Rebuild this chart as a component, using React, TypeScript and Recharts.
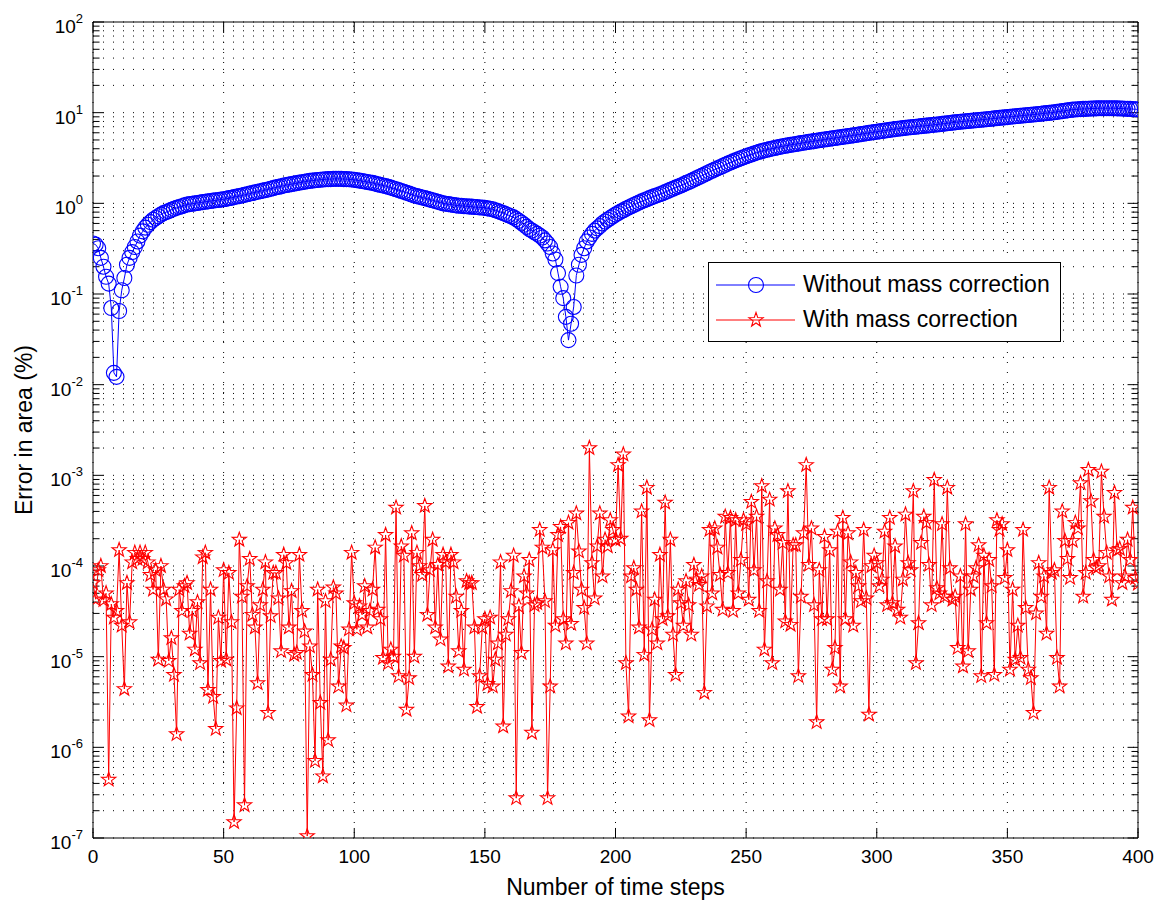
import React from 'react';
import { CartesianGrid, Legend, Line, LineChart, ReferenceLine, XAxis, YAxis } from 'recharts';

const FONT = '"Liberation Sans", Arial, Helvetica, sans-serif';

// time step index 0..400
const steps = Array.from({ length: 401 }, (_, i) => i);

// error in area (%) without mass correction
const withoutCorrection = [
  0.36, 0.35, 0.32, 0.25, 0.2, 0.155, 0.13, 0.07, 0.0135, 0.0122,
  0.065, 0.11, 0.15, 0.21, 0.25, 0.29, 0.33, 0.38, 0.44, 0.49,
  0.54, 0.58, 0.62, 0.66, 0.69, 0.72, 0.75, 0.78, 0.8, 0.82,
  0.85, 0.87, 0.89, 0.91, 0.93, 0.95, 0.97, 0.98, 0.99, 1.0,
  1.01, 1.02, 1.03, 1.04, 1.05, 1.06, 1.07, 1.08, 1.09, 1.1,
  1.11, 1.12, 1.14, 1.15, 1.17, 1.19, 1.2, 1.22, 1.24, 1.26,
  1.28, 1.3, 1.32, 1.34, 1.36, 1.38, 1.4, 1.42, 1.45, 1.47,
  1.5, 1.52, 1.54, 1.57, 1.59, 1.61, 1.63, 1.65, 1.67, 1.69,
  1.71, 1.73, 1.75, 1.77, 1.78, 1.8, 1.81, 1.82, 1.83, 1.84,
  1.85, 1.85, 1.86, 1.86, 1.86, 1.86, 1.85, 1.85, 1.84, 1.83,
  1.82, 1.8, 1.78, 1.76, 1.74, 1.72, 1.7, 1.68, 1.65, 1.62,
  1.6, 1.57, 1.55, 1.52, 1.49, 1.46, 1.43, 1.4, 1.37, 1.34,
  1.31, 1.28, 1.25, 1.22, 1.2, 1.18, 1.16, 1.14, 1.12, 1.1,
  1.08, 1.06, 1.04, 1.02, 1.0, 0.99, 0.98, 0.97, 0.96, 0.95,
  0.94, 0.94, 0.93, 0.93, 0.92, 0.92, 0.91, 0.91, 0.9, 0.9,
  0.89, 0.88, 0.87, 0.86, 0.84, 0.82, 0.8, 0.78, 0.76, 0.74,
  0.72, 0.7, 0.67, 0.64, 0.61, 0.58, 0.55, 0.52, 0.5, 0.48,
  0.46, 0.44, 0.42, 0.39, 0.36, 0.33, 0.28, 0.24, 0.17, 0.12,
  0.09, 0.056, 0.031, 0.047, 0.072, 0.16, 0.21, 0.27, 0.32, 0.38,
  0.42, 0.46, 0.5, 0.53, 0.56, 0.6, 0.63, 0.66, 0.69, 0.72,
  0.75, 0.78, 0.81, 0.84, 0.87, 0.9, 0.93, 0.96, 0.99, 1.02,
  1.05, 1.08, 1.11, 1.14, 1.17, 1.2, 1.23, 1.26, 1.29, 1.33,
  1.37, 1.41, 1.45, 1.49, 1.53, 1.57, 1.62, 1.67, 1.72, 1.77,
  1.83, 1.89, 1.95, 2.01, 2.08, 2.15, 2.22, 2.29, 2.36, 2.43,
  2.5, 2.58, 2.66, 2.74, 2.82, 2.9, 2.98, 3.06, 3.14, 3.22,
  3.3, 3.38, 3.46, 3.54, 3.62, 3.7, 3.77, 3.84, 3.9, 3.96,
  4.02, 4.08, 4.14, 4.2, 4.26, 4.31, 4.36, 4.41, 4.46, 4.51,
  4.56, 4.61, 4.66, 4.71, 4.76, 4.81, 4.86, 4.91, 4.96, 5.01,
  5.06, 5.11, 5.16, 5.21, 5.26, 5.31, 5.36, 5.41, 5.46, 5.51,
  5.56, 5.62, 5.68, 5.74, 5.8, 5.86, 5.92, 5.98, 6.04, 6.1,
  6.16, 6.22, 6.28, 6.34, 6.4, 6.46, 6.52, 6.58, 6.64, 6.7,
  6.75, 6.8, 6.85, 6.9, 6.95, 7.0, 7.05, 7.1, 7.15, 7.2,
  7.25, 7.3, 7.35, 7.4, 7.46, 7.52, 7.58, 7.64, 7.7, 7.76,
  7.82, 7.88, 7.94, 8.0, 8.05, 8.1, 8.15, 8.2, 8.25, 8.3,
  8.35, 8.4, 8.46, 8.52, 8.58, 8.64, 8.7, 8.76, 8.82, 8.88,
  8.94, 9.0, 9.06, 9.12, 9.18, 9.24, 9.3, 9.36, 9.42, 9.48,
  9.54, 9.6, 9.67, 9.74, 9.81, 9.88, 9.95, 10.0, 10.1, 10.2,
  10.3, 10.4, 10.5, 10.6, 10.7, 10.8, 10.85, 10.9, 10.95, 11.0,
  11.0, 11.05, 11.1, 11.1, 11.15, 11.2, 11.2, 11.2, 11.2, 11.2,
  11.2, 11.2, 11.15, 11.1, 11.1, 11.05, 11.0, 11.0, 10.95, 10.9,
  10.9,
];

// error in area (%) with mass correction
const withCorrection = [
  6.5e-5, 4.3e-5, 9e-5, 1e-4, 4.2e-5, 5e-5, 4.4e-7, 3.8e-5, 2.7e-5, 3.2e-5,
  1.5e-4, 2.2e-5, 4.4e-6, 6.5e-5, 2.4e-5, 1.1e-4, 1.4e-4, 1.2e-4, 1.4e-4, 1.2e-4,
  1.4e-4, 1.1e-4, 8e-5, 5.5e-5, 9e-5, 9.3e-6, 1e-4, 5.5e-5, 4.3e-5, 9e-6,
  1.6e-5, 6.3e-6, 1.4e-6, 5.5e-5, 3.2e-5, 6e-5, 6.5e-5, 1.8e-5, 3.2e-5, 1.2e-5,
  4e-5, 8.5e-6, 1.25e-4, 1.4e-4, 4.3e-6, 5.5e-5, 3.6e-6, 1.6e-6, 2.7e-5, 9e-6,
  9e-5, 9.3e-6, 8.4e-5, 2.4e-5, 1.5e-7, 2.7e-6, 1.95e-4, 4.6e-5, 2.3e-7, 6e-5,
  1.2e-4, 2.9e-5, 2.1e-5, 5.1e-6, 3.7e-5, 5.5e-5, 1.1e-4, 2.4e-6, 2.8e-5, 8.4e-5,
  8.4e-5, 4.4e-5, 1.15e-5, 1.33e-4, 1.08e-4, 2.1e-5, 5.3e-5, 1.05e-5, 1.1e-5, 1.33e-4,
  3.2e-5, 1.9e-5, 1.05e-7, 1.3e-5, 6.3e-6, 7.1e-7, 5.5e-5, 3.1e-6, 4.8e-7, 4.1e-5,
  1.2e-6, 9.3e-6, 5.8e-5, 5e-5, 4.7e-6, 1.3e-5, 1.25e-5, 2.9e-6, 2e-5, 1.4e-4,
  3.9e-5, 2e-5, 3.6e-5, 2.9e-5, 6e-5, 2.1e-5, 3.2e-5, 5.5e-5, 1.6e-4, 3.3e-5,
  2.6e-5, 9.7e-6, 2.2e-4, 8.5e-6, 1.2e-5, 1e-5, 4.4e-4, 6.1e-6, 1.65e-4, 1.3e-4,
  2.6e-6, 5.8e-6, 2.3e-4, 1e-5, 1.4e-4, 1e-4, 8e-5, 4.6e-4, 2.9e-5, 9e-5,
  1.95e-4, 2.1e-5, 1.03e-4, 1.55e-5, 1.33e-4, 1.1e-4, 7.8e-6, 1.33e-4, 1.1e-4, 4.6e-5,
  1.15e-5, 3.2e-5, 7.2e-6, 6.8e-5, 6.5e-5, 6.5e-5, 2.1e-5, 2.8e-6, 6.1e-6, 2.1e-5,
  2.6e-5, 5e-6, 2.7e-5, 4.7e-6, 9.3e-6, 1.4e-5, 1.1e-4, 1.7e-6, 1.75e-5, 2.6e-5,
  5.3e-5, 1.3e-4, 2.75e-7, 3.6e-5, 1.1e-5, 7.7e-5, 5e-5, 1.17e-4, 1.45e-6, 3.7e-5,
  3.9e-5, 2.5e-4, 1.6e-4, 4.1e-5, 2.75e-7, 4.7e-6, 1.5e-4, 2.2e-5, 2.2e-4, 2.7e-4,
  2.6e-5, 1.4e-5, 3e-4, 2.3e-5, 8.4e-5, 3.8e-4, 1.45e-4, 5.5e-5, 3.45e-5, 1.4e-5,
  2e-3, 1.08e-4, 4.4e-5, 1.65e-4, 3.8e-4, 7.7e-5, 1.95e-4, 1.65e-4, 3.2e-4, 2.5e-4,
  1.95e-4, 1.3e-3, 2e-4, 1.7e-3, 8.5e-6, 2.2e-6, 7.7e-5, 9.5e-5, 5.5e-5, 2.1e-5,
  4e-4, 1.05e-5, 7.3e-4, 2e-6, 2e-5, 4.25e-5, 1.4e-5, 1.33e-4, 2.6e-5, 5e-4,
  2.8e-5, 1.95e-4, 1.75e-5, 6.3e-6, 5.5e-5, 3.9e-5, 2.2e-5, 6.8e-5, 3.7e-5, 1.75e-5,
  1.03e-4, 7.1e-5, 6.2e-5, 7.7e-5, 4e-6, 3.6e-5, 2.5e-4, 5e-5, 2.6e-4, 1.6e-4,
  8e-5, 3.3e-5, 3.5e-4, 8.4e-5, 3.4e-4, 3.2e-5, 3.2e-4, 5e-5, 1.17e-4, 3.2e-4,
  2.9e-4, 4.25e-5, 5.1e-4, 9e-5, 3.5e-4, 3.2e-5, 7.6e-4, 1.2e-5, 6.8e-5, 5.4e-4,
  8.5e-6, 2.6e-4, 2.2e-4, 5.5e-5, 1.8e-4, 2.45e-5, 6.7e-4, 2.25e-5, 1.7e-4, 1.7e-4,
  6.1e-6, 4.6e-5, 2.3e-4, 1.3e-3, 1.03e-4, 2.6e-4, 3.7e-5, 1.9e-6, 9e-5, 2.6e-5,
  2.1e-4, 2.6e-5, 1.5e-4, 7.2e-6, 1.25e-5, 2.4e-4, 4.7e-6, 3.4e-4, 2.6e-5, 2.3e-4,
  1.1e-4, 2.2e-5, 8.4e-5, 6e-5, 4.1e-5, 2.5e-4, 4.4e-5, 2.3e-6, 1e-4, 1.3e-4,
  1.08e-4, 6e-5, 7.1e-5, 2.4e-4, 3.7e-5, 3.4e-4, 3.9e-5, 1.65e-4, 3.3e-5, 2.7e-5,
  7.1e-5, 3.7e-4, 1.08e-4, 9e-5, 6.7e-4, 8.5e-6, 2.35e-5, 1.8e-4, 3.5e-4, 3e-4,
  1.03e-4, 3.7e-5, 8.9e-4, 5.7e-5, 5e-5, 2.9e-4, 4.6e-5, 7.3e-4, 9.5e-5, 4.25e-5,
  4.6e-5, 1.25e-5, 7.7e-5, 7.8e-6, 2.9e-4, 1.15e-5, 5.5e-5, 7.7e-5, 9.5e-5, 1.7e-4,
  6.1e-6, 1.3e-4, 2.35e-5, 1.17e-4, 6e-5, 6.3e-6, 3.2e-4, 2.5e-4, 2.9e-4, 7.4e-5,
  1.5e-4, 7.2e-6, 5.5e-5, 9.3e-6, 2.2e-5, 9.7e-6, 2.5e-4, 3.45e-5, 7.2e-6, 5.8e-6,
  2.4e-6, 3e-5, 1.08e-4, 4.6e-5, 7.7e-5, 1.8e-5, 7.3e-4, 8.4e-5, 9e-5, 9.7e-6,
  4.7e-6, 4e-4, 1.9e-4, 1.2e-4, 7.4e-5, 1.9e-4, 3e-4, 2.6e-4, 8.2e-4, 4.6e-5,
  8.4e-5, 1.15e-3, 5.2e-4, 1.17e-4, 9.5e-5, 1e-4, 1.1e-3, 3.5e-4, 1.4e-4, 7.7e-5,
  4.25e-5, 6.4e-4, 1.5e-4, 1.55e-4, 6.5e-5, 7.7e-5, 1.95e-4, 1.17e-4, 4.4e-4, 7.4e-5,
  6.4e-5,
];

const xTicks = [0, 50, 100, 150, 200, 250, 300, 350, 400];
const yDecades = [1e-7, 1e-6, 1e-5, 1e-4, 1e-3, 1e-2, 1e-1, 1, 10, 100];
const yExponents = ['-7', '-6', '-5', '-4', '-3', '-2', '-1', '0', '1', '2'];
const minorFactors = [2, 3, 4, 5, 6, 7, 8, 9];

const seriesNames = ['Without mass correction', 'With mass correction'];

const data = steps.map((s, i) => ({ step: s, without: withoutCorrection[i], with: withCorrection[i] }));

const minorValues: number[] = [];
yDecades.slice(0, -1).forEach((d) => minorFactors.forEach((m) => minorValues.push(d * m)));

const starPoints = (cx: number, cy: number, R: number) => {
  const r = R * 0.4;
  const pts: string[] = [];
  for (let k = 0; k < 10; k++) {
    const a = -Math.PI / 2 + (k * Math.PI) / 5;
    const rad = k % 2 === 0 ? R : r;
    pts.push(`${cx + rad * Math.cos(a)},${cy + rad * Math.sin(a)}`);
  }
  return pts.join(' ');
};

const StarDot = (props: any) => {
  const { cx, cy, index } = props;
  if (cx == null || cy == null) return null;
  return <polygon key={`star-${index}`} points={starPoints(cx, cy, 7.5)} fill="none" stroke="#ff0000" strokeWidth={1.1} />;
};

const DecadeTick = ({ x, y, payload }: any) => {
  const idx = yDecades.indexOf(payload.value);
  return (
    <text x={x} y={y + 11} textAnchor="end" fontFamily={FONT} fontSize={19} fill="#000">
      <tspan>10</tspan>
      <tspan dy={-10} fontSize={13}>{yExponents[idx]}</tspan>
    </text>
  );
};

const YTitle = ({ viewBox }: any) => {
  const cx = viewBox.x + 24;
  const cy = viewBox.y + viewBox.height / 2;
  return (
    <text x={cx} y={cy} transform={`rotate(-90, ${cx}, ${cy})`} textAnchor="middle" fontFamily={FONT} fontSize={23} fill="#000">
      Error in area (%)
    </text>
  );
};

const XTitle = ({ viewBox }: any) => (
  <text x={viewBox.x + viewBox.width / 2} y={viewBox.y + 57} textAnchor="middle" fontFamily={FONT} fontSize={23} fill="#000">
    Number of time steps
  </text>
);

const LegendBox = () => (
  <div style={{ border: '1px solid #000', background: '#fff', width: 351, height: 74, paddingTop: 4, boxSizing: 'content-box', fontFamily: FONT, fontSize: 23 }}>
    {seriesNames.map((name, i) => (
      <div key={name} style={{ display: 'flex', alignItems: 'center', height: 35 }}>
        <svg width={94} height={20} style={{ display: 'block' }}>
          <line x1={7} y1={10} x2={86} y2={10} stroke={i === 0 ? '#0000ff' : '#ff0000'} strokeWidth={1} />
          {i === 0 ? (
            <circle cx={47} cy={10} r={7.5} fill="none" stroke="#0000ff" strokeWidth={1.1} />
          ) : (
            <polygon points={starPoints(47, 10, 7.5)} fill="none" stroke="#ff0000" strokeWidth={1.1} />
          )}
        </svg>
        <span style={{ color: '#000', whiteSpace: 'nowrap' }}>{name}</span>
      </div>
    ))}
  </div>
);

const majorLen = 4;
const minorLen = 2.5;
const xTickFactor = 1.29;

export default function App() {
  return (
    <div style={{ width: 1155, height: 893, background: '#fff' }}>
      <LineChart width={1155} height={893} data={data} margin={{ top: 14, right: 25, left: 0, bottom: 0 }}>
        <CartesianGrid horizontal={false} stroke="#000" strokeDasharray="1 9" />
        {[...yDecades, ...minorValues].map((v) => (
          <ReferenceLine key={`g-${v}`} y={v} stroke="#000" strokeDasharray="1 9" />
        ))}
        <XAxis
          dataKey="step"
          type="number"
          domain={[0, 400]}
          ticks={xTicks}
          interval={0}
          allowDataOverflow
          height={63}
          axisLine={{ stroke: '#000' }}
          tickLine={false}
          tickMargin={6}
          tick={{ fill: '#000', fontSize: 19, fontFamily: FONT }}
          label={{ content: XTitle }}
        />
        <YAxis
          type="number"
          scale="log"
          domain={[1e-7, 100]}
          ticks={yDecades}
          interval={0}
          allowDataOverflow
          width={85}
          axisLine={{ stroke: '#000' }}
          tickLine={false}
          tickMargin={4}
          tick={<DecadeTick />}
          label={{ content: YTitle }}
        />
        <ReferenceLine y={100} stroke="#000" />
        <ReferenceLine x={400} stroke="#000" />
        {yDecades.map((v) => (
          <ReferenceLine key={`ml-${v}`} segment={[{ x: 0, y: v }, { x: majorLen, y: v }]} stroke="#000" />
        ))}
        {yDecades.map((v) => (
          <ReferenceLine key={`mr-${v}`} segment={[{ x: 400 - majorLen, y: v }, { x: 400, y: v }]} stroke="#000" />
        ))}
        {minorValues.map((v) => (
          <ReferenceLine key={`nl-${v}`} segment={[{ x: 0, y: v }, { x: minorLen, y: v }]} stroke="#000" />
        ))}
        {minorValues.map((v) => (
          <ReferenceLine key={`nr-${v}`} segment={[{ x: 400 - minorLen, y: v }, { x: 400, y: v }]} stroke="#000" />
        ))}
        {xTicks.map((t) => (
          <ReferenceLine key={`xb-${t}`} segment={[{ x: t, y: 1e-7 }, { x: t, y: 1e-7 * xTickFactor }]} stroke="#000" />
        ))}
        {xTicks.map((t) => (
          <ReferenceLine key={`xt-${t}`} segment={[{ x: t, y: 100 / xTickFactor }, { x: t, y: 100 }]} stroke="#000" />
        ))}
        <Line
          type="linear"
          dataKey="without"
          name={seriesNames[0]}
          stroke="#0000ff"
          strokeWidth={1}
          dot={{ r: 7.5, stroke: '#0000ff', strokeWidth: 1.1, fill: 'none' }}
          isAnimationActive={false}
        />
        <Line
          type="linear"
          dataKey="with"
          name={seriesNames[1]}
          stroke="#ff0000"
          strokeWidth={1}
          dot={<StarDot />}
          isAnimationActive={false}
        />
        <Legend
          layout="vertical"
          align="center"
          verticalAlign="middle"
          content={<LegendBox />}
          wrapperStyle={{ left: 700, top: 254, width: 353 }}
        />
      </LineChart>
    </div>
  );
}
